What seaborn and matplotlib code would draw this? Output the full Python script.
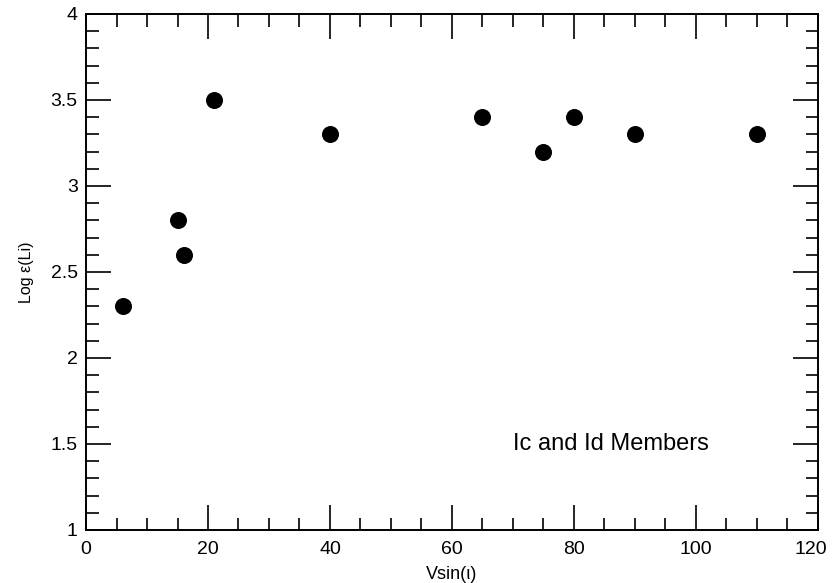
import matplotlib
matplotlib.use("Agg")
import matplotlib.pyplot as plt
import matplotlib.transforms as mtransforms
import seaborn as sns
import pandas as pd
from matplotlib.ticker import MultipleLocator

vsini = [6, 15, 16, 21, 40, 65, 75, 80, 90, 110]
log_eps_li = [2.3, 2.8, 2.6, 3.5, 3.3, 3.4, 3.2, 3.4, 3.3, 3.3]
label_text = "Ic and Id Members"

df = pd.DataFrame({"vsini": vsini, "li": log_eps_li})

sns.set_style("white")
plt.rcParams['font.family'] = ['Liberation Sans', 'DejaVu Sans']
plt.rcParams['text.color'] = 'black'
plt.rcParams['axes.labelcolor'] = 'black'
plt.rcParams['xtick.color'] = 'black'
plt.rcParams['ytick.color'] = 'black'

fig, ax = plt.subplots(figsize=(8.32, 5.83), dpi=100)
fig.subplots_adjust(left=0.1034, right=0.983, top=0.976, bottom=0.091)

sns.scatterplot(data=df, x="vsini", y="li", color="black", s=150,
                edgecolor="black", linewidth=0, ax=ax, zorder=3)

ax.set_xlim(0, 120)
ax.set_ylim(1, 4)
ax.set_xticks([0, 20, 40, 60, 80, 100, 120])
ax.xaxis.set_minor_locator(MultipleLocator(5))
ax.yaxis.set_minor_locator(MultipleLocator(0.1))
ax.set_yticks([1, 1.5, 2, 2.5, 3, 3.5, 4])
ax.set_yticklabels(["1", "1.5", "2", "2.5", "3", "3.5", "4"])

ax.tick_params(which="both", direction="in", top=True, right=True,
               bottom=True, left=True, width=1.2, color="black",
               labelsize=14, labelcolor="black")
ax.tick_params(axis="x", pad=8)
ax.tick_params(axis="y", pad=6)
ax.tick_params(which="major", length=18)
ax.tick_params(which="minor", length=9)
for sp in ax.spines.values():
    sp.set_linewidth(1.4)
    sp.set_color("black")

ax.set_xlabel("Vsin(ι)", fontsize=13, labelpad=6, color="black")
ax.set_ylabel("Log ε(Li)", fontsize=11.5, labelpad=12, color="black")

ax.text(86, 1.5, label_text, fontsize=17, ha="center", va="center", color="black")

# keep the last x tick label inside the figure
fig.canvas.draw()
for lab in ax.get_xticklabels():
    if lab.get_text() == "120":
        lab.set_transform(lab.get_transform() +
                          mtransforms.ScaledTranslation(-0.07, 0, fig.dpi_scale_trans))

fig.savefig("out.png", dpi=100)
